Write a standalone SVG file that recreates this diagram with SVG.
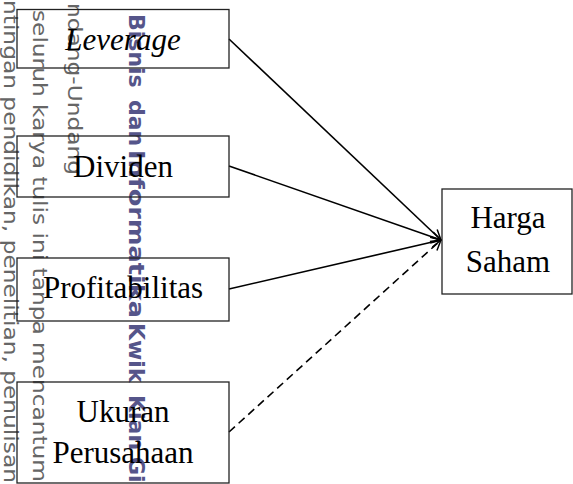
<svg xmlns="http://www.w3.org/2000/svg" width="573" height="484" viewBox="0 0 573 484">
<style>
.wm{font-family:"DejaVu Sans",sans-serif;font-size:19.5px;fill:#666}
.wmb{font-family:"DejaVu Sans",sans-serif;font-size:22px;font-weight:bold;fill:#55558a}
.box{fill:none;stroke:#222;stroke-width:1.3}
.lbl{font-family:"Liberation Serif","Times New Roman",serif;font-size:31px;fill:#000;text-anchor:middle}
.con{stroke:#000;stroke-width:1.6;fill:none}
.dash{stroke-dasharray:8 5}
</style>
<defs>
<marker id="arr" viewBox="0 0 12 12" refX="11" refY="6" markerWidth="12" markerHeight="12" markerUnits="userSpaceOnUse" orient="auto">
<path d="M1,1 L11,6 L1,11" fill="none" stroke="#000" stroke-width="1.5"/>
</marker>
</defs>
<g id="watermark">
<text class="wm" transform="translate(4,0) rotate(90)" x="0" y="0" textLength="483" lengthAdjust="spacingAndGlyphs">ntingan pendidikan, penelitian, penulisan</text>
<text class="wm" transform="translate(33,0) rotate(90)" x="10" y="0" textLength="472" lengthAdjust="spacingAndGlyphs">seluruh karya tulis ini tanpa mencantum</text>
<text class="wm" transform="translate(68,0) rotate(90)" x="3" y="0" textLength="172" lengthAdjust="spacingAndGlyphs">ndang-Undang</text>
<g transform="translate(129,0) rotate(90)">
<text class="wmb" x="14" y="0">Bisnis</text>
<text class="wmb" x="100" y="0">dan</text>
<text class="wmb" x="150" y="0" textLength="168" lengthAdjust="spacingAndGlyphs">Informatika</text>
<text class="wmb" x="323" y="0">Kwik</text>
<text class="wmb" x="395" y="0">Kian</text>
<text class="wmb" x="457" y="0">Gi</text>
</g>
</g>
<g id="connectors">
<line class="con" x1="229" y1="39" x2="441" y2="240" marker-end="url(#arr)"/>
<line class="con" x1="229" y1="166" x2="441" y2="240" marker-end="url(#arr)"/>
<line class="con" x1="229" y1="289" x2="441" y2="240" marker-end="url(#arr)"/>
<line class="con dash" x1="229" y1="432" x2="441" y2="240" marker-end="url(#arr)"/>
</g>
<g id="leverage">
<rect class="box" x="17" y="9.5" width="212" height="58.5"/>
<text class="lbl" x="123" y="50" font-style="italic">Leverage</text>
</g>
<g id="dividen">
<rect class="box" x="17" y="136" width="212" height="61"/>
<text class="lbl" x="123" y="177">Dividen</text>
</g>
<g id="profitabilitas">
<rect class="box" x="17" y="258" width="212" height="63"/>
<text class="lbl" x="123" y="298">Profitabilitas</text>
</g>
<g id="ukuran">
<rect class="box" x="17" y="382" width="212" height="101"/>
<text class="lbl" x="123" y="422">Ukuran</text>
<text class="lbl" x="123" y="463">Perusahaan</text>
</g>
<g id="harga">
<rect class="box" x="442" y="189" width="130" height="105"/>
<text class="lbl" x="508" y="228">Harga</text>
<text class="lbl" x="508" y="272">Saham</text>
</g>
</svg>
